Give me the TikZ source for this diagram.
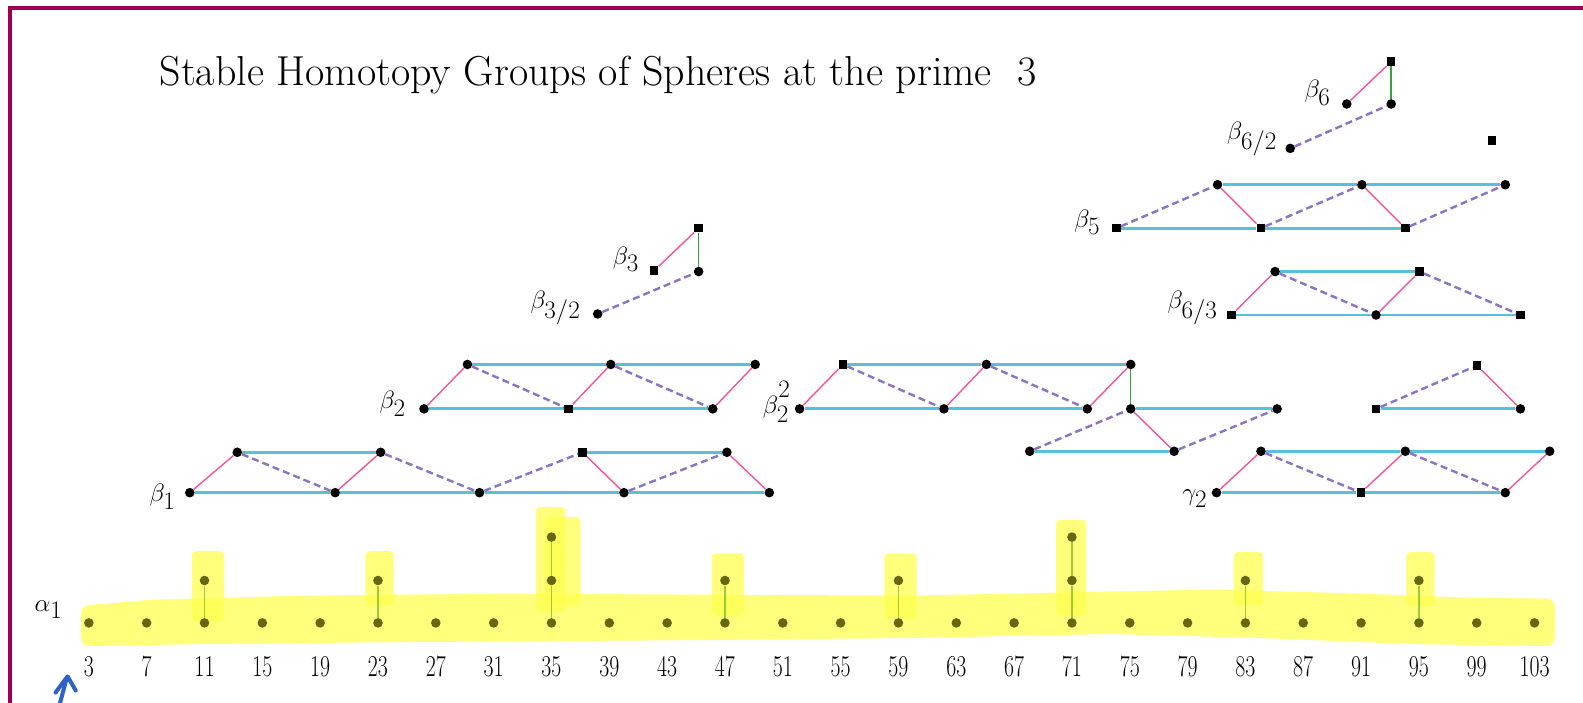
\documentclass[tikz,border=0pt]{standalone}
\definecolor{bordercol}{HTML}{9E0052}
\definecolor{cyanln}{HTML}{58C0DC}
\definecolor{pinkln}{HTML}{F2559E}
\definecolor{purpln}{HTML}{8C74C4}
\definecolor{greenln}{HTML}{3DA040}
\definecolor{ygreen}{HTML}{9CCC30}
\definecolor{olivedot}{HTML}{676712}
\definecolor{hlyellow}{HTML}{FFFF50}
\definecolor{penblue}{HTML}{2F62C8}
\begin{document}
\begin{tikzpicture}[x=1pt,y=-1pt,
  dot/.style={circle,fill=black,inner sep=0pt,minimum size=9.5pt},
  sqd/.style={rectangle,fill=black,inner sep=0pt,minimum size=8.5pt},
  adot/.style={circle,fill=olivedot,inner sep=0pt,minimum size=9.5pt},
  blu/.style={draw=cyanln,line width=2.8pt},
  pnk/.style={draw=pinkln,line width=1.4pt},
  dsh/.style={draw=purpln,line width=2.4pt,dash pattern=on 7pt off 4pt},
  grn/.style={draw=greenln,line width=1.4pt},
  agrn/.style={draw=ygreen,line width=1.6pt},
  lbl/.style={inner sep=0pt,anchor=east,font=\fontsize{33}{38}\selectfont},
  axl/.style={inner sep=0pt,font=\fontsize{30}{34}\selectfont},
  hl/.style={fill=hlyellow,opacity=0.75}
]
\useasboundingbox (0,0) rectangle (1568,696);
\fill[white] (0,0) rectangle (1568,696);
% border
\draw[draw=bordercol,line width=4pt] (10,700) -- (10,8) -- (1570,8);
% title
\node[anchor=west,inner sep=0pt,font=\fontsize{41.5}{48}\selectfont] (title) at (158,74) {Stable Homotopy Groups of Spheres at the prime~~3};

% yellow highlighter
\fill[hl,rounded corners=8pt] (80,600) -- (150,594) -- (300,590) -- (500,588) -- (700,589) -- (900,590) -- (1050,587) -- (1200,584) -- (1350,588) -- (1450,592) -- (1540,593) -- (1540,640) -- (1400,638) -- (1250,632) -- (1100,628) -- (900,632) -- (700,634) -- (400,636) -- (200,638) -- (80,640) -- cycle;
\fill[hl,rounded corners=4pt] (190,546) rectangle (222,616);
\fill[hl,rounded corners=4pt] (362,546) rectangle (390,600);
\fill[hl,rounded corners=4pt] (531,502) rectangle (560,606);
\fill[hl,rounded corners=4pt] (540,512) rectangle (575,600);
\fill[hl,rounded corners=4pt] (705,548) rectangle (737,610);
\fill[hl,rounded corners=4pt] (876,548) rectangle (908,612);
\fill[hl,rounded corners=4pt] (1046,515) rectangle (1076,610);
\fill[hl,rounded corners=4pt] (1222,547) rectangle (1251,600);
\fill[hl,rounded corners=4pt] (1393,547) rectangle (1421,600);

% axis dots and labels
\foreach \n in {3,7,...,103}{
  \node[adot] (a\n) at ({88+(\n-3)*14.32},617) {};
  \node[axl] (l\n) at ({88+(\n-3)*14.32},660) {\scalebox{0.72}[1]{\n}};
}
\foreach \n in {11,23,35,47,59,71,83,95}{
  \node[adot] (u\n) at ({88+(\n-3)*14.32},575) {};
  \draw[agrn] (a\n) -- (u\n);
}
\foreach \n in {35,71}{
  \node[adot] (w\n) at ({88+(\n-3)*14.32},532) {};
  \draw[agrn] (u\n) -- (w\n);
}
\node[lbl] (alpha) at (62,604) {$\alpha_1$};

% pen arrow
\draw[penblue,line width=4pt,line cap=round,line join=round] (59,698) -- (66,672);
\draw[penblue,line width=4pt,line cap=round,line join=round] (55,686) -- (67,670) -- (75,684);

% beta_1
\node[lbl] (lb1) at (174,492) {$\beta_1$};
\node[dot] (b10) at (188,488) {};
\node[dot] (b11) at (332,488) {};
\node[dot] (b12) at (475,488) {};
\node[dot] (b13) at (618,488) {};
\node[dot] (b14) at (762,488) {};
\node[dot] (t10) at (235,448) {};
\node[dot] (t11) at (377,448) {};
\node[sqd] (t12) at (577,448) {};
\node[dot] (t13) at (720,448) {};
\draw[blu] (b10) -- (b11) -- (b12) -- (b13) -- (b14);
\draw[blu] (t10) -- (t11);
\draw[blu] (t12) -- (t13);
\draw[pnk] (b10) -- (t10);
\draw[pnk] (b11) -- (t11);
\draw[pnk] (t12) -- (b13);
\draw[pnk] (t13) -- (b14);
\draw[dsh] (t10) -- (b11);
\draw[dsh] (t11) -- (b12);
\draw[dsh] (b12) -- (t12);
\draw[dsh] (b13) -- (t13);

% beta_2
\node[lbl] (lb2) at (402,400) {$\beta_2$};
\node[dot] (b20) at (420,405) {};
\node[sqd] (b21) at (563,405) {};
\node[dot] (b22) at (706,405) {};
\node[dot] (t20) at (463,361) {};
\node[dot] (t21) at (605,361) {};
\node[dot] (t22) at (748,361) {};
\draw[blu] (b20) -- (b21) -- (b22);
\draw[blu] (t20) -- (t21) -- (t22);
\draw[pnk] (b20) -- (t20);
\draw[pnk] (b21) -- (t21);
\draw[pnk] (b22) -- (t22);
\draw[dsh] (t20) -- (b21);
\draw[dsh] (t21) -- (b22);

% beta_2^2
\node[lbl] (lb22) at (783,398) {$\beta_2^{\raisebox{7pt}{$\scriptstyle 2$}}$};
\node[dot] (c0) at (792,405) {};
\node[dot] (c1) at (935,405) {};
\node[dot] (c2) at (1077,405) {};
\node[sqd] (ct0) at (835,361) {};
\node[dot] (ct1) at (977,361) {};
\node[dot] (ct2) at (1120,361) {};
\node[dot] (d0) at (1120,405) {};
\node[dot] (d1) at (1265,405) {};
\node[dot] (e0) at (1020,447) {};
\node[dot] (e1) at (1163,447) {};
\draw[blu] (c0) -- (c1) -- (c2);
\draw[blu] (ct0) -- (ct1) -- (ct2);
\draw[pnk] (c0) -- (ct0);
\draw[pnk] (c1) -- (ct1);
\draw[pnk] (c2) -- (ct2);
\draw[dsh] (ct0) -- (c1);
\draw[dsh] (ct1) -- (c2);
\draw[grn] (ct2) -- (d0);
\draw[blu] (d0) -- (d1);
\draw[blu] (e0) -- (e1);
\draw[dsh] (e0) -- (d0);
\draw[pnk] (d0) -- (e1);
\draw[dsh] (e1) -- (d1);

% right triangle
\node[sqd] (f0) at (1363,405) {};
\node[dot] (f1) at (1506,405) {};
\node[sqd] (ft) at (1463,362) {};
\draw[blu] (f0) -- (f1);
\draw[dsh] (f0) -- (ft);
\draw[pnk] (ft) -- (f1);

% gamma_2
\node[lbl] (lg2) at (1196,494) {$\gamma_2$};
\node[dot] (g0) at (1205,488) {};
\node[sqd] (g1) at (1348,488) {};
\node[dot] (g2) at (1491,488) {};
\node[dot] (gt0) at (1249,447) {};
\node[dot] (gt1) at (1392,447) {};
\node[dot] (gt2) at (1535,447) {};
\draw[blu] (g0) -- (g1) -- (g2);
\draw[blu] (gt0) -- (gt1) -- (gt2);
\draw[pnk] (g0) -- (gt0);
\draw[pnk] (g1) -- (gt1);
\draw[pnk] (g2) -- (gt2);
\draw[dsh] (gt0) -- (g1);
\draw[dsh] (gt1) -- (g2);

% beta_{6/3}
\node[lbl] (lb63) at (1206,305) {$\beta_{6/3}$};
\node[sqd] (h0) at (1220,312) {};
\node[dot] (h1) at (1363,312) {};
\node[sqd] (h2) at (1506,312) {};
\node[dot] (ht0) at (1263,269) {};
\node[sqd] (ht1) at (1406,269) {};
\draw[blu] (h0) -- (h1) -- (h2);
\draw[blu] (ht0) -- (ht1);
\draw[pnk] (h0) -- (ht0);
\draw[pnk] (h1) -- (ht1);
\draw[dsh] (ht0) -- (h1);
\draw[dsh] (ht1) -- (h2);

% beta_5
\node[lbl] (lb5) at (1090,220) {$\beta_5$};
\node[sqd] (k0) at (1106,226) {};
\node[sqd] (k1) at (1249,226) {};
\node[sqd] (k2) at (1392,226) {};
\node[dot] (kt0) at (1206,183) {};
\node[dot] (kt1) at (1349,183) {};
\node[dot] (kt2) at (1491,183) {};
\draw[blu] (k0) -- (k1) -- (k2);
\draw[blu] (kt0) -- (kt1) -- (kt2);
\draw[dsh] (k0) -- (kt0);
\draw[dsh] (k1) -- (kt1);
\draw[dsh] (k2) -- (kt2);
\draw[pnk] (kt0) -- (k1);
\draw[pnk] (kt1) -- (k2);

% beta_{6/2}, beta_6
\node[lbl] (lb62) at (1265,138) {$\beta_{6/2}$};
\node[dot] (m0) at (1278,147) {};
\node[lbl] (lb6) at (1318,92) {$\beta_6$};
\node[dot] (n0) at (1334,103) {};
\node[dot] (n1) at (1378,103) {};
\node[sqd] (nt) at (1378,61) {};
\draw[dsh] (m0) -- (n1);
\draw[pnk] (n0) -- (nt);
\draw[grn] (nt) -- (n1);
\node[sqd] (s0) at (1478,139) {};

% beta_3, beta_{3/2}
\node[lbl] (lb3) at (633,257) {$\beta_3$};
\node[sqd] (p0) at (648,268) {};
\node[dot] (p1) at (692,269) {};
\node[sqd] (pt) at (692,226) {};
\draw[pnk] (p0) -- (pt);
\draw[grn] (pt) -- (p1);
\node[lbl] (lb32) at (575,305) {$\beta_{3/2}$};
\node[dot] (q0) at (592,311) {};
\draw[dsh] (q0) -- (p1);
\end{tikzpicture}
\end{document}
